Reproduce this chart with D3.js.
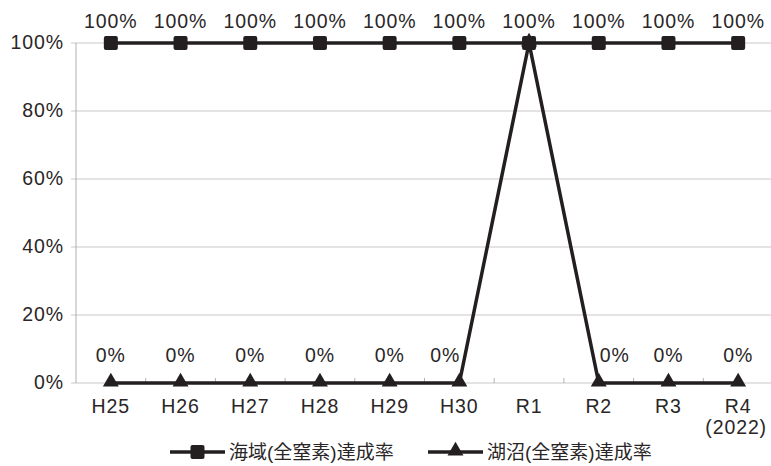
<!DOCTYPE html>
<html>
<head>
<meta charset="utf-8">
<script src="https://cdn.jsdelivr.net/npm/d3@7"></script>
<style>
body { margin: 0; background: #fff; }
text { font-family: "Liberation Sans", "Noto Sans CJK JP", sans-serif; fill: #2a2627; }
</style>
</head>
<body>
<div id="graphics"></div>
<script>
const categories = ["H25", "H26", "H27", "H28", "H29", "H30", "R1", "R2", "R3", "R4"];
const seaRate = [100, 100, 100, 100, 100, 100, 100, 100, 100, 100];
const lakeRate = [0, 0, 0, 0, 0, 0, 100, 0, 0, 0];
const yTicks = [0, 20, 40, 60, 80, 100];
const seriesNames = ["海域(全窒素)達成率", "湖沼(全窒素)達成率"];

const W = 771, H = 466;
const margin = { left: 76, right: -2, top: 43, bottom: 83 };
const FS = "19.5px";
const LS = "0.9px";

let svg = d3.select("#graphics")
    .append("svg")
    .attr("width", W)
    .attr("height", H);

let x = d3.scaleBand().domain(categories).range([margin.left, W - margin.right]);
let y = d3.scaleLinear().domain([0, 100]).range([H - margin.bottom, margin.top]);
let cx = d => x(d) + x.bandwidth() / 2;

// grid lines
svg.selectAll("line.grid")
    .data(yTicks)
    .enter()
    .append("line")
    .attr("x1", margin.left - 5)
    .attr("x2", W)
    .attr("y1", d => y(d))
    .attr("y2", d => y(d))
    .attr("stroke", "#c8c8c8")
    .attr("stroke-width", 1);

// y axis line
svg.append("line")
    .attr("x1", margin.left).attr("x2", margin.left)
    .attr("y1", y(100)).attr("y2", y(0))
    .attr("stroke", "#b0b0b0");

// y labels
svg.selectAll("text.ylab")
    .data(yTicks)
    .enter()
    .append("text")
    .attr("x", margin.left - 12)
    .attr("y", d => y(d) + 6)
    .attr("text-anchor", "end")
    .style("font-size", FS)
    .style("letter-spacing", LS)
    .text(d => d + "%");

// x ticks between categories
svg.selectAll("line.xtick")
    .data(categories.slice(1))
    .enter()
    .append("line")
    .attr("x1", d => x(d)).attr("x2", d => x(d))
    .attr("y1", y(0)).attr("y2", y(0) - 5)
    .attr("stroke", "#b0b0b0");

// x labels
svg.selectAll("text.xlab")
    .data(categories)
    .enter()
    .append("text")
    .attr("x", d => cx(d))
    .attr("y", y(0) + 30)
    .attr("text-anchor", "middle")
    .style("font-size", FS)
    .style("letter-spacing", LS)
    .text(d => d);
svg.append("text")
    .attr("x", cx("R4") - 2)
    .attr("y", y(0) + 51)
    .attr("text-anchor", "middle")
    .style("font-size", FS)
    .style("letter-spacing", LS)
    .text("(2022)");

let line = d3.line().x(d => cx(d.c)).y(d => y(d.v));
let seaData = categories.map((c, i) => ({ c: c, v: seaRate[i] }));
let lakeData = categories.map((c, i) => ({ c: c, v: lakeRate[i] }));

svg.append("path").datum(lakeData).attr("d", line)
    .attr("fill", "none").attr("stroke", "#231f20").attr("stroke-width", 3.5);
svg.append("path").datum(seaData).attr("d", line)
    .attr("fill", "none").attr("stroke", "#231f20").attr("stroke-width", 3.5);

let tri = d3.symbol().type(d3.symbolTriangle).size(110);

svg.selectAll("path.lake")
    .data(lakeData)
    .enter()
    .append("path")
    .attr("d", tri)
    .attr("transform", d => "translate(" + cx(d.c) + "," + (y(d.v) - 1) + ")")
    .attr("fill", "#231f20");

svg.selectAll("rect.sea")
    .data(seaData)
    .enter()
    .append("rect")
    .attr("x", d => cx(d.c) - 7)
    .attr("y", d => y(d.v) - 7)
    .attr("width", 14).attr("height", 14)
    .attr("rx", 2)
    .attr("fill", "#231f20");

// value labels
svg.selectAll("text.seaLab")
    .data(seaData)
    .enter()
    .append("text")
    .attr("x", d => cx(d.c))
    .attr("y", d => y(d.v) - 15)
    .attr("text-anchor", "middle")
    .style("font-size", FS)
    .style("letter-spacing", LS)
    .text(d => d.v + "%");

let lakeShift = { "H30": -14, "R2": 16 };
svg.selectAll("text.lakeLab")
    .data(lakeData.filter(d => d.v == 0))
    .enter()
    .append("text")
    .attr("x", d => cx(d.c) + (lakeShift[d.c] || 0))
    .attr("y", d => y(d.v) - 21)
    .attr("text-anchor", "middle")
    .style("font-size", FS)
    .style("letter-spacing", LS)
    .text(d => d.v + "%");

// legend
let legend = [
    { name: seriesNames[0], x: 170, shape: "square" },
    { name: seriesNames[1], x: 428, shape: "triangle" }
];
let ly = 452;
legend.forEach(function (l) {
    svg.append("line")
        .attr("x1", l.x).attr("x2", l.x + 55)
        .attr("y1", ly).attr("y2", ly)
        .attr("stroke", "#231f20").attr("stroke-width", 3.5);
    if (l.shape == "square") {
        svg.append("rect")
            .attr("x", l.x + 27.5 - 7).attr("y", ly - 7)
            .attr("width", 14).attr("height", 14).attr("rx", 2)
            .attr("fill", "#231f20");
    } else {
        svg.append("path").attr("d", tri)
            .attr("transform", "translate(" + (l.x + 27.5) + "," + (ly - 1) + ")")
            .attr("fill", "#231f20");
    }
    svg.append("text")
        .attr("x", l.x + 59)
        .attr("y", ly + 7)
        .style("font-size", "19px")
        .text(l.name);
});
</script>
</body>
</html>
